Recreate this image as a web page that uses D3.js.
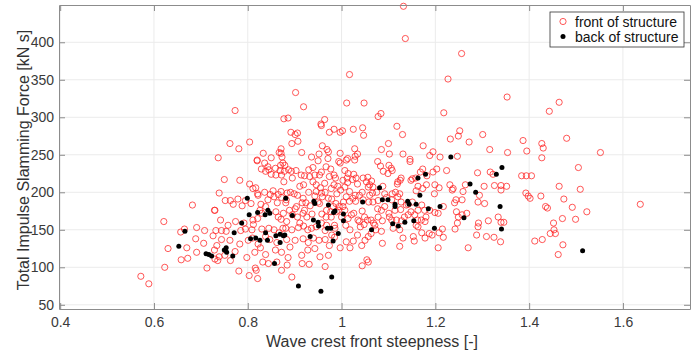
<!DOCTYPE html>
<html>
<head>
<meta charset="utf-8">
<script src="https://cdn.jsdelivr.net/npm/d3@7"></script>
<style>
  body { margin: 0; background: #fff; }
  svg { display: block; font-family: "Liberation Sans", Arial, sans-serif; }
</style>
</head>
<body>
<svg id="chart" width="699" height="354"></svg>
<script>
// axis setup
const xTicks = [0.4, 0.6, 0.8, 1, 1.2, 1.4, 1.6];
const yTicks = [50, 100, 150, 200, 250, 300, 350, 400];
const xLabel = 'Wave crest front steepness [-]';
const yLabel = 'Total Impulse Slamming Force [kN s]';
const seriesNames = ['front of structure', 'back of structure'];

// [steepness, force] pairs, front of structure
const front = [
  [0.820,242],[0.879,236],[0.838,228],[0.845,230],[0.869,229],[0.860,223],[0.878,228],[0.903,229],
  [0.921,222],[0.930,230],[0.939,233],[0.957,227],[0.967,234],[0.977,231],[0.984,223],[0.997,239],
  [1.007,229],[1.012,219],[1.026,224],[1.031,219],[1.056,220],[1.064,215],[0.974,221],[0.987,219],
  [0.950,242],[0.750,217],[0.783,216],[0.804,211],[0.739,199],[0.752,189],[0.763,189],[0.779,191],
  [0.795,189],[0.817,206],[0.821,198],[0.836,200],[0.848,197],[0.856,194],[0.865,197],[0.871,201],
  [0.884,199],[0.899,198],[0.906,196],[0.891,200],[0.919,210],[0.930,200],[0.943,195],[0.946,210],
  [0.955,206],[0.965,200],[0.978,205],[0.984,210],[0.990,198],[0.998,203],[1.007,207],[1.013,213],
  [1.023,217],[1.029,196],[1.034,211],[1.044,200],[1.057,207],[1.066,199],[0.730,176],[0.769,184],
  [0.788,182],[0.807,185],[0.828,184],[0.838,181],[0.863,186],[0.881,186],[0.901,178],[0.916,186],
  [0.924,186],[0.933,182],[0.950,187],[0.959,194],[0.972,192],[0.979,191],[0.988,185],[0.995,181],
  [1.004,187],[1.017,188],[1.030,188],[1.044,175],[1.058,187],[1.063,163],[1.068,159],[0.742,163],
  [0.758,156],[0.774,161],[0.792,159],[0.812,157],[0.821,165],[0.830,172],[0.860,174],[0.871,164],
  [0.876,172],[0.883,161],[0.895,170],[0.906,167],[0.918,172],[0.926,167],[0.937,171],[0.958,171],
  [0.967,167],[0.977,174],[0.993,176],[1.007,176],[1.014,165],[1.026,172],[1.038,161],[1.048,157],
  [1.055,163],[1.063,145],[0.732,149],[0.744,149],[0.754,148],[0.785,149],[0.795,151],[0.809,150],
  [0.830,151],[0.845,152],[0.856,150],[0.867,146],[0.881,152],[0.894,150],[0.908,153],[0.919,155],
  [0.928,150],[0.936,152],[0.946,154],[0.965,149],[0.979,143],[0.986,152],[1.009,156],[1.018,150],
  [1.034,143],[1.040,154],[1.057,141],[0.734,129],[0.744,137],[0.762,136],[0.783,131],[0.801,136],
  [0.810,139],[0.822,131],[0.838,141],[0.847,137],[0.862,133],[0.883,137],[0.890,127],[0.901,136],
  [0.918,138],[0.929,133],[0.940,139],[0.952,136],[0.965,137],[0.974,129],[0.985,140],[0.997,126],
  [1.010,134],[1.025,135],[1.018,126],[1.043,129],[1.050,136],[0.730,111],[0.739,114],[0.751,116],
  [0.773,121],[0.798,113],[0.815,120],[0.827,126],[0.838,117],[0.859,123],[0.872,120],[0.886,113],
  [0.915,116],[0.928,123],[0.943,125],[0.954,114],[0.972,116],[1.054,110],[0.736,109],[0.763,109],
  [0.781,95],[0.803,89],[0.818,96],[0.821,85],[0.816,99],[0.832,107],[0.844,105],[0.862,107],
  [0.872,96],[0.884,103],[0.894,87],[0.916,105],[0.931,104],[0.965,101],[1.044,102],[1.057,107],
  [1.083,235],[1.101,236],[1.089,228],[1.108,229],[1.099,225],[1.146,241],[1.173,231],[1.168,227],
  [1.182,222],[1.195,227],[1.203,231],[1.224,229],[1.077,241],[1.125,216],[1.119,211],[1.115,200],
  [1.088,208],[1.075,200],[1.092,198],[1.108,198],[1.151,218],[1.158,219],[1.159,202],[1.163,208],
  [1.181,210],[1.198,198],[1.199,210],[1.208,206],[1.231,210],[1.238,205],[1.236,203],[1.264,210],
  [1.259,201],[1.290,226],[1.317,227],[1.323,224],[1.304,208],[1.326,209],[1.340,209],[1.352,208],
  [1.340,203],[1.384,222],[1.394,222],[1.405,222],[1.393,199],[1.398,195],[1.402,192],[1.244,190],
  [1.241,186],[1.257,190],[1.294,196],[1.291,187],[1.305,185],[1.078,189],[1.096,193],[1.107,190],
  [1.124,198],[1.127,187],[1.142,184],[1.151,187],[1.077,178],[1.085,176],[1.092,181],[1.101,172],
  [1.114,176],[1.126,177],[1.078,167],[1.087,162],[1.071,156],[1.085,148],[1.073,150],[1.107,163],
  [1.117,163],[1.128,162],[1.142,170],[1.156,170],[1.148,174],[1.171,183],[1.188,176],[1.199,173],
  [1.178,161],[1.162,163],[1.206,172],[1.217,181],[1.245,174],[1.249,167],[1.247,159],[1.257,170],
  [1.267,172],[1.292,159],[1.291,154],[1.313,162],[1.334,167],[1.340,160],[1.346,160],[1.163,154],
  [1.171,146],[1.178,139],[1.187,145],[1.193,143],[1.215,151],[1.208,146],[1.217,140],[1.242,151],
  [1.131,139],[1.153,141],[1.155,135],[1.206,126],[1.087,132],[1.124,128],[1.270,126],[1.288,143],
  [1.309,141],[1.325,140],[1.339,134],[1.412,135],[1.110,152],[1.124,150],
  [1.505,233],[1.464,208],[1.509,204],[1.425,195],[1.474,191],[1.435,181],[1.439,179],[1.492,180],
  [1.523,174],[1.637,184],[1.471,165],[1.499,164],[1.452,159],[1.453,150],[1.456,145],[1.445,145],
  [1.428,137],[1.472,130],[1.462,117],
  [1.017,357],[0.902,333],[0.773,309],[0.919,314],[1.011,319],[1.048,319],[0.877,298],[0.886,299],
  [0.964,297],[0.956,291],[0.957,289],[0.892,280],[0.901,277],[0.906,279],[0.894,265],[0.907,268],
  [0.974,280],[0.984,284],[0.997,280],[1.002,282],[1.025,284],[1.045,286],[1.047,276],[0.762,265],
  [0.781,258],[0.804,267],[0.737,246],[0.820,243],[0.850,246],[0.871,258],[0.867,253],[0.873,247],
  [0.871,252],[0.915,253],[0.936,247],[0.952,251],[0.959,262],[0.969,257],[0.972,254],[0.997,252],
  [1.013,245],[1.028,258],[1.034,251],[1.029,248],[0.971,245],
  [1.132,448],[1.136,405],[1.256,385],[1.227,351],[1.353,327],[1.218,306],[1.078,301],[1.084,305],
  [1.118,288],[1.130,277],[1.100,265],[1.085,257],[1.102,251],[1.131,251],[1.174,262],[1.188,249],
  [1.195,254],[1.210,247],[1.232,271],[1.249,275],[1.252,282],[1.247,248],[1.272,267],[1.301,277],
  [1.316,257],[1.354,253],[1.387,269],[1.395,255],[1.146,244],
  [1.464,320],[1.443,308],[1.480,272],[1.427,265],[1.430,259],[1.427,246],[1.552,253],
  [0.682,183],[0.729,176],[0.621,161],[0.665,151],[0.657,147],[0.691,153],[0.708,149],[0.726,142],
  [0.689,138],[0.706,132],[0.670,126],[0.630,125],[0.691,120],[0.658,110],[0.672,112],[0.729,123],
  [0.623,100],[0.713,99],[0.572,88],[0.589,78],
  // dense core, second reading
  [0.833,252],[0.836,239],[0.994,241],[0.843,234],[0.829,231],[0.850,224],[0.859,232],[0.870,236],
  [0.875,239],[0.887,230],[0.893,228],[0.872,223],[0.877,214],[0.895,219],[0.914,223],[0.932,221],
  [0.939,214],[0.943,223],[0.953,223],[0.964,212],[0.992,208],[0.911,208],[0.811,205],[0.854,202],
  [0.822,196],[0.843,190],[0.872,193],[0.882,190],[0.918,192],[0.946,201],[0.957,199],[0.826,176],
  [0.811,163],[0.865,167],[0.889,176],[0.904,181],[0.921,176],[0.911,159],[0.953,185],[0.968,176],
  [0.978,167],[0.989,174],[0.982,181],[0.957,159],[0.968,156],[0.985,156],[0.875,152],
  [1.010,243],[1.028,243],[1.106,232],[1.014,225],[1.003,216],[1.046,219],[1.053,214],[1.060,210],
  [1.067,207],[1.120,214],[1.127,219],[1.148,216],[1.173,205],[1.017,201],[1.038,196],[1.010,194],
  [1.024,192],[1.046,190],[1.060,196],[1.067,187],[1.120,194],[1.138,183],[1.163,176],[1.177,176],
  [1.003,181],[1.000,167],[1.021,170],[1.035,163],[1.049,167],[1.102,167],[1.134,167],[1.159,156],
  [1.170,163],[1.180,167]
];

// back of structure
const back = [
  [0.799,192],[0.881,192],[0.941,188],[0.943,185],[0.972,183],[0.986,175],[0.983,173],[1.004,171],
  [1.004,162],[1.045,187],[0.803,170],[0.821,173],[0.837,170],[0.843,176],[0.847,172],[0.895,169],
  [0.787,159],[0.940,163],[0.950,160],[0.951,155],[0.970,152],[0.977,152],[0.771,146],[0.806,138],
  [0.817,139],[0.826,136],[0.838,146],[0.842,136],[0.860,142],[0.869,144],[0.876,142],[0.879,143],
  [0.869,133],[0.933,141],[0.982,135],[0.993,145],[1.064,150],[0.754,126],[0.750,123],[0.755,120],
  [0.768,115],[0.857,105],[0.979,87],[0.908,75],[0.956,68],
  [1.081,206],[1.087,190],[1.099,190],[1.114,184],[1.114,181],[1.141,188],[1.144,184],[1.159,184],
  [1.163,219],[1.179,224],[1.167,196],[1.185,178],[1.210,181],[1.135,160],[1.121,155],[1.109,158],
  [1.154,162],[1.198,152],[1.274,211],[1.286,200],[1.330,224],[1.342,233],[1.338,181],[1.261,166],
  [1.341,151],
  [0.666,148],[0.653,128],[0.711,118],[0.717,117],[0.723,115],[1.233,247],[1.514,122]
];

const svg = d3.select('#chart');
const margin = {top: 5, right: 9, bottom: 45, left: 59};
const width = +svg.attr('width') - margin.left - margin.right;
const height = +svg.attr('height') - margin.top - margin.bottom;

const x = d3.scaleLinear().domain([0.3975, 1.743]).range([0, width]);
const y = d3.scaleLinear().domain([44.4, 449.7]).range([height, 0]);

const g = svg.append('g').attr('transform', 'translate(' + margin.left + ',' + margin.top + ')');

// grid
g.append('g').selectAll('line').data(xTicks).join('line')
    .attr('x1', d => x(d)).attr('x2', d => x(d))
    .attr('y1', 0).attr('y2', height)
    .attr('stroke', '#ebebeb');
g.append('g').selectAll('line').data(yTicks).join('line')
    .attr('x1', 0).attr('x2', width)
    .attr('y1', d => y(d)).attr('y2', d => y(d))
    .attr('stroke', '#ebebeb');

// points
g.append('g').selectAll('circle').data(front).join('circle')
    .attr('cx', d => x(d[0])).attr('cy', d => y(d[1]))
    .attr('r', 3.1)
    .attr('fill', 'none')
    .attr('stroke', '#ff2020')
    .attr('stroke-width', 0.75);
g.append('g').selectAll('circle').data(back).join('circle')
    .attr('cx', d => x(d[0])).attr('cy', d => y(d[1]))
    .attr('r', 2.5)
    .attr('fill', '#000');

// box axes, ticks inward on all sides
const fmt = d => d3.format('~g')(d);
const axisColor = '#8c8c8c';
const axBottom = g.append('g').attr('transform', 'translate(0,' + height + ')')
    .call(d3.axisBottom(x).tickValues(xTicks).tickFormat(fmt).tickSizeInner(-6).tickSizeOuter(0).tickPadding(8));
const axLeft = g.append('g')
    .call(d3.axisLeft(y).tickValues(yTicks).tickFormat(fmt).tickSizeInner(-6).tickSizeOuter(0).tickPadding(5));
const axTop = g.append('g')
    .call(d3.axisTop(x).tickValues(xTicks).tickFormat('').tickSizeInner(-6).tickSizeOuter(0));
const axRight = g.append('g').attr('transform', 'translate(' + width + ',0)')
    .call(d3.axisRight(y).tickValues(yTicks).tickFormat('').tickSizeInner(-6).tickSizeOuter(0));
[axBottom, axLeft, axTop, axRight].forEach(a => {
  a.select('.domain').attr('stroke', axisColor);
  a.selectAll('.tick line').attr('stroke', axisColor);
  a.selectAll('.tick text').attr('fill', '#3a3a3a').style('font-size', '14px')
      .style('font-family', '"Liberation Sans", Arial, sans-serif');
});

// axis labels
svg.append('text')
    .attr('x', 372).attr('y', 347)
    .attr('text-anchor', 'middle')
    .style('font-size', '16px').attr('fill', '#333')
    .text(xLabel);
svg.append('text')
    .attr('transform', 'translate(29,160) rotate(-90)')
    .attr('text-anchor', 'middle')
    .style('font-size', '16px').attr('fill', '#333')
    .text(yLabel);

// legend
const lg = svg.append('g').attr('transform', 'translate(550,12)');
lg.append('rect').attr('width', 134).attr('height', 35)
    .attr('fill', '#fff').attr('stroke', '#333').attr('stroke-width', 0.8);
lg.append('circle').attr('cx', 13).attr('cy', 9.5).attr('r', 3.1)
    .attr('fill', 'none').attr('stroke', '#ff2020').attr('stroke-width', 0.75);
lg.append('circle').attr('cx', 13).attr('cy', 24.5).attr('r', 2.5).attr('fill', '#000');
lg.selectAll('text.lbl').data(seriesNames).join('text')
    .attr('class', 'lbl')
    .attr('x', 25).attr('y', (d, i) => 14.5 + i * 15)
    .style('font-size', '14px').attr('fill', '#111')
    .text(d => d);
</script>
</body>
</html>
